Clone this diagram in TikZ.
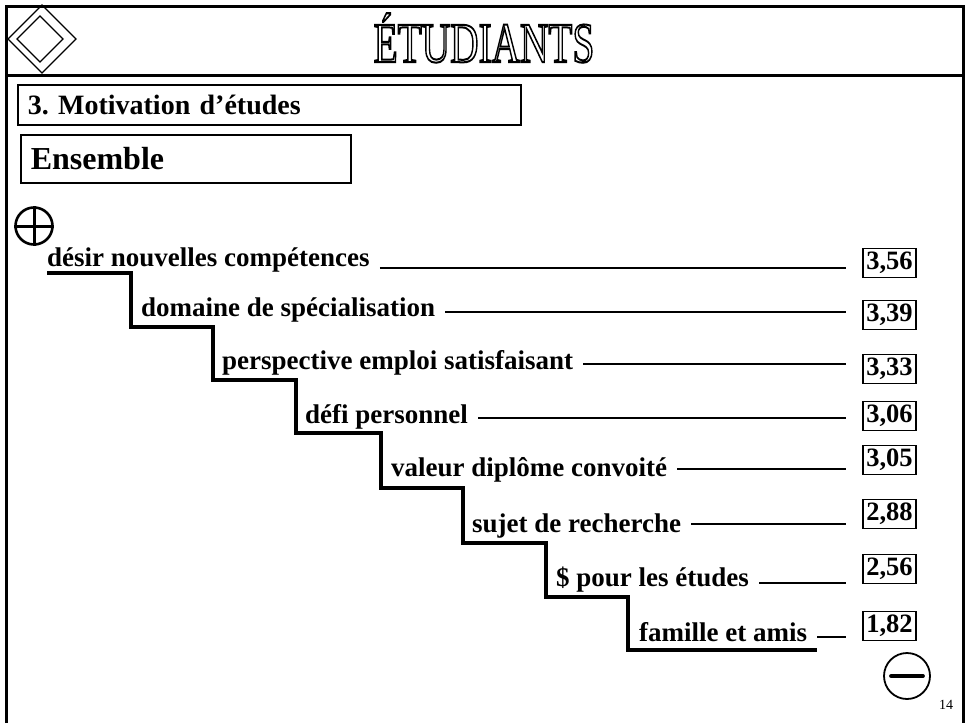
\documentclass[tikz,border=0pt]{standalone}
\usepackage{fontspec}
\setmainfont{Liberation Serif}
\usepackage{tikz}
\frenchspacing
\newcommand\hollowtext[1]{\special{pdf:literal direct 1 g 0 G 2 Tr 2 w}#1\special{pdf:literal direct 0 Tr 0 g}}

\begin{document}
\begin{tikzpicture}[x=1pt,y=-1pt,
  lbl/.style={anchor=base west,inner sep=0pt,font=\fontsize{27}{30}\selectfont\bfseries},
  val/.style={draw,line width=1.6pt,minimum width=53pt,minimum height=29pt,inner sep=0pt,font=\fontsize{26.5}{28}\selectfont\bfseries},
  rule/.style={line width=1.6pt},
  stair/.style={line width=3.5pt,line join=miter},
  head/.style={draw,line width=1.6pt,anchor=north west,inner xsep=10pt,inner ysep=0pt,align=left}]
\useasboundingbox (0,0) rectangle (966,723);
% cadre et bandeau
\draw[line width=3pt] (6,723) -- (6,6) -- (963,6) -- (963,723);
\draw[line width=3pt] (6,75) -- (963,75);
\draw[line width=1.4pt] (8,39) -- (42,5) -- (76,39) -- (42,73) -- cycle;
\draw[line width=1.4pt] (17,39) -- (40,16) -- (63,39) -- (40,62) -- cycle;
\node (titre) at (484,38) {\fontsize{57}{60}\selectfont\scalebox{0.69}[1]{\hollowtext{ÉTUDIANTS}}};
% titres
\path (17,84) node[head,text width=483pt,minimum height=40pt,font=\fontsize{28}{30}\selectfont\bfseries] (theme) {3. Motivation d’études}
      (20,134) node[head,text width=310pt,minimum height=48pt,font=\fontsize{32}{34}\selectfont\bfseries] (groupe) {Ensemble};
% plus / moins
\node[circle,draw,line width=2.6pt,minimum size=37pt,inner sep=0pt] (plus) at (34,226) {};
\draw[line width=3pt] (plus.north) -- (plus.south);
\draw[line width=3pt] (plus.west) -- (plus.east);
\node[circle,draw,line width=1.8pt,minimum size=46pt,inner sep=0pt] (moins) at (907,676) {};
\draw[line width=4pt,line cap=round] ([xshift=8pt]moins.west) -- ([xshift=-8pt]moins.east);
\node[font=\fontsize{14}{14}\selectfont] (page) at (946,705) {14};
% escalier
\draw[stair] (47,273) -| (131,327) -| (213,380) -| (296,433) -| (381,488)
  -| (463,543) -| (546,597) -| (628,650) -- (817,650);
% motifs
\path (47,266) node[lbl] (l1) {désir nouvelles compétences}
      (141,316) node[lbl] (l2) {domaine de spécialisation}
      (222,369) node[lbl] (l3) {perspective emploi satisfaisant}
      (305,423) node[lbl] (l4) {défi personnel}
      (391,476) node[lbl] (l5) {valeur diplôme convoité}
      (472,532) node[lbl] (l6) {sujet de recherche}
      (556,586) node[lbl] (l7) {\$ pour les études}
      (639,641) node[lbl] (l8) {famille et amis};
\path (846,268) coordinate (e1)
      (846,312) coordinate (e2)
      (846,364) coordinate (e3)
      (846,418) coordinate (e4)
      (846,469) coordinate (e5)
      (846,524) coordinate (e6)
      (846,583) coordinate (e7)
      (846,637) coordinate (e8);
\draw[rule] ([xshift=10pt]l1.east |- e1) -- (e1);
\draw[rule] ([xshift=10pt]l2.east |- e2) -- (e2);
\draw[rule] ([xshift=10pt]l3.east |- e3) -- (e3);
\draw[rule] ([xshift=10pt]l4.east |- e4) -- (e4);
\draw[rule] ([xshift=10pt]l5.east |- e5) -- (e5);
\draw[rule] ([xshift=10pt]l6.east |- e6) -- (e6);
\draw[rule] ([xshift=10pt]l7.east |- e7) -- (e7);
\draw[rule] ([xshift=10pt]l8.east |- e8) -- (e8);
% moyennes
\path (889.5,263) node[val] (v1) {3,56}
      (889.5,315) node[val] (v2) {3,39}
      (889.5,369) node[val] (v3) {3,33}
      (889.5,416) node[val] (v4) {3,06}
      (889.5,460) node[val] (v5) {3,05}
      (889.5,514) node[val] (v6) {2,88}
      (889.5,569) node[val] (v7) {2,56}
      (889.5,626) node[val] (v8) {1,82};
\end{tikzpicture}
\end{document}
